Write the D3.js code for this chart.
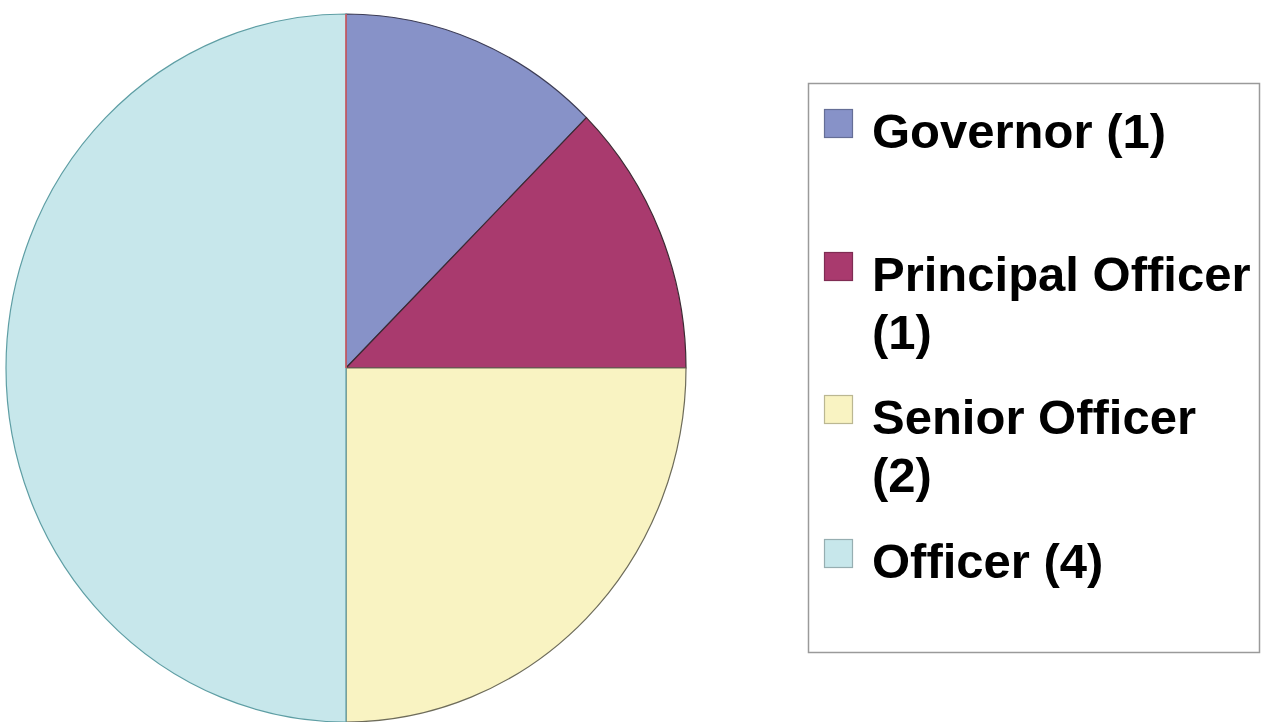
<!DOCTYPE html>
<html>
<head>
<meta charset="utf-8">
<script src="https://cdn.jsdelivr.net/npm/d3@7"></script>
<style>
  html, body { margin: 0; padding: 0; background: #fff; }
  svg { display: block; }
</style>
</head>
<body>
<svg id="chart" width="1262" height="722"></svg>
<script>
const categories = ["Governor (1)", "Principal Officer (1)", "Senior Officer (2)", "Officer (4)"];
const values = [1, 1, 2, 4];
const legendLines = [["Governor (1)"], ["Principal Officer", "(1)"], ["Senior Officer", "(2)"], ["Officer (4)"]];
const fills = ["#8792c8", "#a93a6e", "#f9f3c2", "#c7e7eb"];
const strokes = ["#3c3c55", "#3c2a33", "#6e6c5a", "#5e9ea4"];

const svg = d3.select("#chart");
const cx = 346, cy = 368, rx = 340, ry = 354;

const pie = d3.pie().sort(null).value(d => d)(values);
const arc = d3.arc().innerRadius(0).outerRadius(rx);

const g = svg.append("g").attr("transform", `translate(${cx},${cy}) scale(1,${ry / rx})`);
g.selectAll("path.slice")
  .data(pie)
  .join("path")
  .attr("class", "slice")
  .attr("d", arc)
  .attr("fill", (d, i) => fills[i])
  .attr("stroke", (d, i) => strokes[i])
  .attr("stroke-width", 1.2)
  .attr("vector-effect", "non-scaling-stroke");

// red edge along the zero-angle radius
const a0 = pie[0].startAngle;
g.append("line")
  .attr("x1", 0).attr("y1", 0)
  .attr("x2", rx * Math.sin(a0)).attr("y2", -rx * Math.cos(a0))
  .attr("stroke", "#d8505a").attr("stroke-width", 1.5)
  .attr("vector-effect", "non-scaling-stroke");

// Legend
svg.append("rect")
  .attr("x", 808.5).attr("y", 83.5)
  .attr("width", 451).attr("height", 569)
  .attr("fill", "#fff").attr("stroke", "#9a9a9a").attr("stroke-width", 1.5);

const baselines = [148, 291, 434, 578];
const lineGap = 58;
const lg = svg.append("g");
categories.forEach((c, i) => {
  const b = baselines[i];
  lg.append("rect")
    .attr("x", 824.5).attr("y", b - 38.5)
    .attr("width", 28).attr("height", 28)
    .attr("fill", fills[i])
    .attr("stroke", d3.color(fills[i]).darker(0.8))
    .attr("stroke-width", 1.2);
  const t = lg.append("text")
    .attr("x", 872).attr("y", b)
    .attr("font-family", "Liberation Sans, Arial, sans-serif")
    .attr("font-weight", "bold")
    .attr("font-size", 49)
    .attr("fill", "#000");
  legendLines[i].forEach((ln, j) => {
    t.append("tspan").attr("x", 872).attr("y", b + j * lineGap).text(ln);
  });
});
</script>
</body>
</html>
